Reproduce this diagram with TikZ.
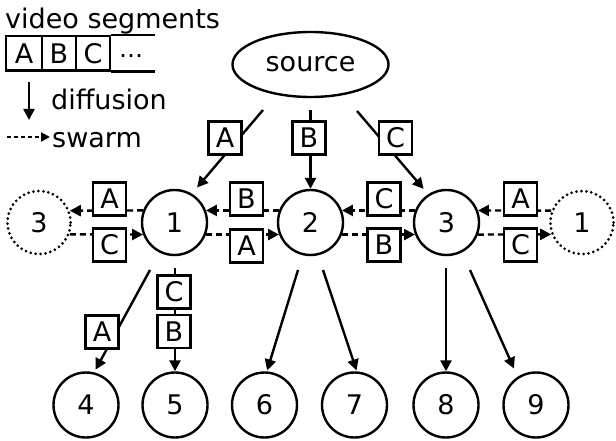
\documentclass[tikz,border=0pt]{standalone}
\usepackage{fontspec}
\setmainfont{DejaVu Sans}
\usetikzlibrary{shapes.geometric,arrows.meta}
\begin{document}
\begin{tikzpicture}[x=1pt,y=-1pt,
  every node/.style={font=\fontsize{27}{31}\selectfont},
  peer/.style={circle,draw,line width=2.4pt,minimum size=65pt,inner sep=0pt},
  ghost/.style={circle,draw,line width=3pt,dash pattern=on 0pt off 5pt,line cap=round,minimum size=63pt,inner sep=0pt},
  seg/.style={draw,line width=2.4pt,fill=white,minimum width=33pt,minimum height=33pt,inner sep=0pt},
  lbl/.style={anchor=base west,inner sep=0pt},
  diff/.style={line width=2.4pt,-{Triangle[length=11pt,width=11pt]}},
  swarmarrow/.style={line width=2.4pt,dash pattern=on 6pt off 4pt,-{Triangle[length=11pt,width=11pt]}},
]
\useasboundingbox (0,0) rectangle (616,441);

% legend
\node[lbl] (title) at (5,29) {video segments};
\node[seg,minimum width=36pt,minimum height=34.5pt] (sA) at (24,53.25) {A};
\node[seg,minimum width=34pt,minimum height=34.5pt] (sB) at (59,53.25) {B};
\node[seg,minimum width=34pt,minimum height=34.5pt] (sC) at (93,53.25) {C};
\draw[line width=2.4pt] (sC.north east) -- ++(44,0);
\draw[line width=2.4pt] (sC.south east) -- ++(44,0);
\node[font=\fontsize{24}{28}\selectfont] (dots) at (131,59) {⋯};
\coordinate (lg1) at (29,82);
\coordinate (lg2) at (29,120);
\draw[diff] (lg1) -- (lg2);
\node[lbl] (tdiff) at (51,110) {diffusion};
\coordinate (lg3) at (7,137);
\coordinate (lg4) at (50,137);
\draw[swarmarrow,line width=2pt,dash pattern=on 4pt off 3pt,-{Triangle[length=9pt,width=9pt]}] (lg3) -- (lg4);
\node[lbl] (tswarm) at (52,148) {swarm};

% nodes
\node[ellipse,draw,line width=2.4pt,minimum width=156pt,minimum height=65pt,inner sep=0pt] (src) at (310.5,64.5) {source};
\node[ghost] (g3) at (39,222.5) {3};
\node[peer] (p1) at (174.5,222.5) {1};
\node[peer] (p2) at (310.5,222.5) {2};
\node[peer] (p3) at (446.5,222.5) {3};
\node[ghost] (g1) at (582,222.5) {1};
\node[peer] (p4) at (86,405) {4};
\node[peer] (p5) at (175,405) {5};
\node[peer] (p6) at (264.5,405) {6};
\node[peer] (p7) at (354.5,405) {7};
\node[peer] (p8) at (446,405) {8};
\node[peer] (p9) at (536,405) {9};

% start points
\coordinate (sa) at (263,110);
\coordinate (sb) at (310.5,110);
\coordinate (sc) at (357,111);
\coordinate (b14) at (150,270);
\coordinate (b15) at (175,268);
\coordinate (b26) at (298,270);
\coordinate (b27) at (323,270);
\coordinate (b38) at (446,268);
\coordinate (b39) at (470,270);

% diffusion from source
\draw[diff,shorten >=8pt] (sa) -- (p1.59);
\draw[diff] (sb) -- (p2.north);
\draw[diff,shorten >=7pt] (sc) -- (p3.123);

% swarm
\draw[swarmarrow] (p1.159) -- (g3.21);
\draw[swarmarrow] (p2.159) -- (p1.21);
\draw[swarmarrow] (p3.159) -- (p2.21);
\draw[swarmarrow] (g1.159) -- (p3.21);
\draw[swarmarrow] (g3.-21) -- (p1.201);
\draw[swarmarrow] (p1.-21) -- (p2.201);
\draw[swarmarrow] (p2.-21) -- (p3.201);
\draw[swarmarrow] (p3.-21) -- (g1.201);

% diffusion downward
\draw[diff,shorten >=3pt] (b14) -- (p4.76);
\draw[diff] (b15) -- (p5.north);
\draw[diff,shorten >=1pt] (b26) -- (p6.86);
\draw[diff,shorten >=1pt] (b27) -- (p7.86);
\draw[diff] (b38) -- (p8.north);
\draw[diff,shorten >=9pt] (b39) -- (p9.123);

% labels
\node[seg] (la) at (225,138) {A};
\node[seg] (lb) at (309,138) {B};
\node[seg] (lc) at (395.5,138) {C};
\node[seg] (u1) at (109.5,199) {A};
\node[seg] (u2) at (246.5,199) {B};
\node[seg] (u3) at (384,199) {C};
\node[seg] (u4) at (520.5,199) {A};
\node[seg] (d1) at (109.5,245) {C};
\node[seg] (d2) at (246.5,246) {A};
\node[seg] (d3) at (384,245) {B};
\node[seg] (d4) at (520.5,245) {C};
\node[seg] (l4) at (102,332) {A};
\node[seg] (l5c) at (174,292) {C};
\node[seg] (l5b) at (174,331.5) {B};
\end{tikzpicture}
\end{document}
